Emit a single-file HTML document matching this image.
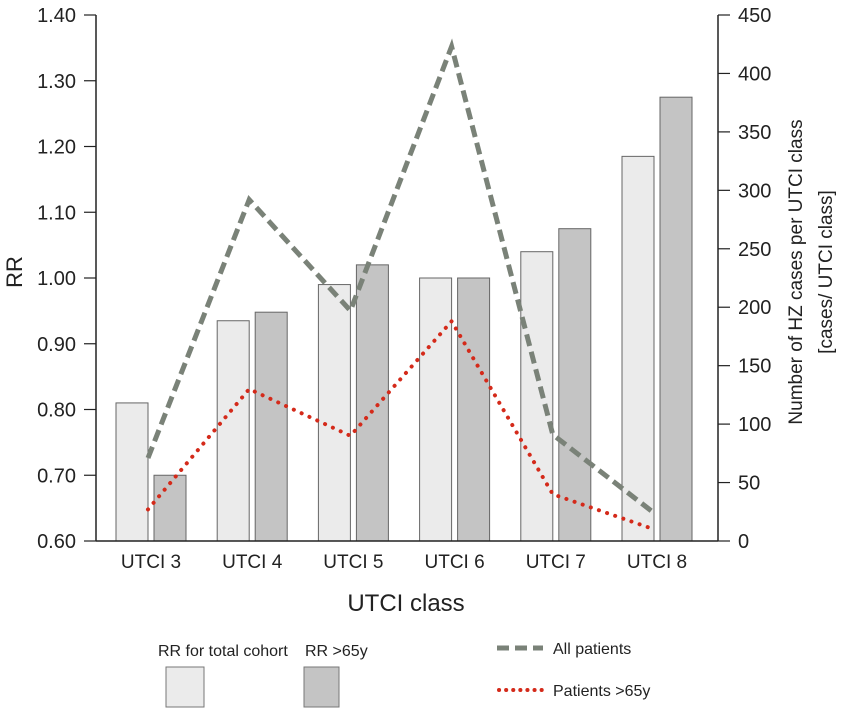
<!DOCTYPE html>
<html><head><meta charset="utf-8"><style>
body{margin:0;background:#fff}
svg text{font-family:"Liberation Sans",Arial,sans-serif;fill:#222}
</style></head><body>
<svg id="chart" width="851" height="711" viewBox="0 0 851 711" xmlns="http://www.w3.org/2000/svg">
<g id="bars"></g><g id="lines"></g><g id="axes"></g>
<text x="0" y="0" font-size="22" text-anchor="middle" transform="translate(22,272) rotate(-90)">RR</text>
<text font-size="19" text-anchor="middle" transform="translate(802,272) rotate(-90)">Number of HZ cases per UTCI class</text>
<text font-size="19" text-anchor="middle" transform="translate(832,272) rotate(-90)">[cases/ UTCI class]</text>
<text x="406" y="611" font-size="24" text-anchor="middle">UTCI  class</text>
<g>
<text x="158" y="656" font-size="16">RR for total cohort</text>
<rect x="166" y="667" width="38" height="40" fill="#ebebeb" stroke="#777"/>
<text x="305" y="656" font-size="16">RR &gt;65y</text>
<rect x="304" y="667" width="35" height="40" fill="#c4c4c4" stroke="#777"/>
<line x1="497" y1="648" x2="543" y2="648" stroke="#7a8278" stroke-width="5" stroke-dasharray="12,6"/>
<text x="553" y="654" font-size="16">All patients</text>
<line x1="499" y1="690" x2="543" y2="690" stroke="#d42a1a" stroke-width="4" stroke-linecap="round" stroke-dasharray="0.1,7"/>
<text x="553" y="696" font-size="16">Patients &gt;65y</text>
</g>
</svg>
<script>
const categories=["UTCI 3","UTCI 4","UTCI 5","UTCI 6","UTCI 7","UTCI 8"];
const rrTotal=[0.81,0.935,0.99,1.00,1.04,1.185];
const rr65=[0.70,0.948,1.02,1.00,1.075,1.275];
const casesAll=[71,292,197,423,91,24];
const cases65=[27,130,90,188,40,10];
const leftTicks=["0.60","0.70","0.80","0.90","1.00","1.10","1.20","1.30","1.40"];
const rightTicks=[0,50,100,150,200,250,300,350,400,450];
const NS="http://www.w3.org/2000/svg";
const X0=96,X1=718,Y0=541,Y1=15;
const yL=v=>Y0-(v-0.6)/0.8*(Y0-Y1);
const yR=v=>Y0-v/450*(Y0-Y1);
const xC=i=>151+101.2*i;
function mk(t,a,p){const e=document.createElementNS(NS,t);for(const k in a)e.setAttribute(k,a[k]);p.appendChild(e);return e;}
const bars=document.getElementById('bars'),lines=document.getElementById('lines'),axes=document.getElementById('axes');
categories.forEach((c,i)=>{
 let r=mk('rect',{x:xC(i)-35,y:yL(rrTotal[i]),width:32,height:Y0-yL(rrTotal[i]),fill:'#ebebeb',stroke:'#666','stroke-width':1},bars);
 
 
 let d=mk('rect',{x:xC(i)+3,y:yL(rr65[i]),width:32,height:Y0-yL(rr65[i]),fill:'#c4c4c4',stroke:'#666','stroke-width':1},bars);
 
 
 let t=mk('text',{x:xC(i),y:568,'font-size':19,'text-anchor':'middle'},axes);t.textContent=c;
 
 
});
const pa=casesAll.map((v,i)=>(xC(i)-3)+','+yR(v)).join(' ');
const la=mk('polyline',{points:pa,fill:'none',stroke:'#7a8278','stroke-width':5,'stroke-dasharray':'12,6'},lines);


const pb=cases65.map((v,i)=>(xC(i)-3)+','+yR(v)).join(' ');
const lb=mk('polyline',{points:pb,fill:'none',stroke:'#d42a1a','stroke-width':4,'stroke-linecap':'round','stroke-dasharray':'0.1,8.5'},lines);


const ax=mk('line',{x1:X0,y1:Y1,x2:X0,y2:Y0,stroke:'#222','stroke-width':1.5},axes);


const ar=mk('line',{x1:X1,y1:Y1,x2:X1,y2:Y0,stroke:'#222','stroke-width':1.5},axes);


const ab=mk('line',{x1:X0,y1:Y0,x2:X1,y2:Y0,stroke:'#222','stroke-width':1.5},axes);


leftTicks.forEach(s=>{const y=yL(parseFloat(s));
 mk('line',{x1:84,y1:y,x2:X0,y2:y,stroke:'#222','stroke-width':1.2},axes);
 const t=mk('text',{x:76,y:y+7,'font-size':20,'text-anchor':'end'},axes);t.textContent=s;
 
 
});
rightTicks.forEach(v=>{const y=yR(v);
 mk('line',{x1:X1,y1:y,x2:730,y2:y,stroke:'#222','stroke-width':1.2},axes);
 const t=mk('text',{x:738,y:y+7,'font-size':20},axes);t.textContent=v;
 
 
});
</script>
</body></html>
